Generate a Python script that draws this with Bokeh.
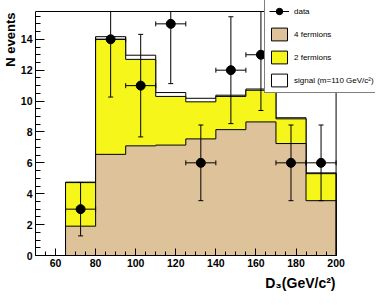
import numpy as np
from bokeh.plotting import figure
from bokeh.models import SingleIntervalTicker, Legend, LegendItem, Title, Range1d
from bokeh.embed import file_html
from bokeh.resources import INLINE

# ---- data ----
bin_edges = [65, 80, 95, 110, 125, 140, 155, 170, 185, 200]
four_fermions = [1.9, 6.55, 7.1, 7.15, 7.55, 8.15, 8.65, 7.25, 3.55]
two_fermions = [2.82, 7.45, 5.6, 3.15, 2.4, 2.15, 2.05, 1.6, 1.75]
signal_m110 = [0.03, 0.17, 0.27, 0.25, 0.23, 0.08, 0.08, 0.07, 0.05]
data_counts = [3, 14, 11, 15, 6, 12, 13, 6, 6]
data_errors = [1.73, 3.74, 3.32, 3.87, 2.45, 3.46, 3.61, 2.45, 2.45]
legend_labels = ["data", "4 fermions", "2 fermions", "signal (m=110 GeV/c\u00b2)"]
x_axis_limits = (50, 200)
y_axis_limits = (0, 15.8)

BEIGE = "#dec299"
YELLOW = "#f6f61a"
FONT = "Liberation Sans"

lefts = np.array(bin_edges[:-1], dtype=float)
rights = np.array(bin_edges[1:], dtype=float)
centers = (lefts + rights) / 2
top4 = np.array(four_fermions)
top2 = top4 + np.array(two_fermions)
topS = top2 + np.array(signal_m110)
counts = np.array(data_counts, dtype=float)
errs = np.array(data_errors)
ymax = y_axis_limits[1]
err_lo = counts - errs
err_hi_raw = counts + errs
err_hi = np.minimum(err_hi_raw, ymax)
cap_ok = err_hi_raw <= ymax

# frame extended to the right/top so the legend (which overlaps the box edge) is not clipped
FIG_W, FIG_H = 375, 297
BORDER_L, BORDER_B = 30, 42
BOX_W, BOX_H = 305, 244
x_span = x_axis_limits[1] - x_axis_limits[0]
y_span = y_axis_limits[1] - y_axis_limits[0]
x_end = x_axis_limits[0] + (FIG_W - BORDER_L) * x_span / BOX_W
y_end = y_axis_limits[0] + (FIG_H - BORDER_B) * y_span / BOX_H

p = figure(width=FIG_W, height=FIG_H, title=None,
           x_range=Range1d(x_axis_limits[0], x_end), y_range=Range1d(y_axis_limits[0], y_end),
           output_backend="svg", toolbar_location=None,
           min_border_left=BORDER_L, min_border_right=0, min_border_top=0, min_border_bottom=BORDER_B)
p.grid.visible = False
p.outline_line_color = None


def outline(tops):
    xs = [bin_edges[0]]
    ys = [0.0]
    for l, r, t in zip(lefts, rights, tops):
        xs += [l, r]
        ys += [t, t]
    xs.append(bin_edges[-1])
    ys.append(0.0)
    return xs, ys


# stacked histograms (signal on top, then 2 fermions, then 4 fermions)
hist_r = []
for tops, col in ((topS, "white"), (top2, YELLOW), (top4, BEIGE)):
    xs, ys = outline(tops)
    hist_r.append(p.patch(xs, ys, fill_color=col, line_color="black", line_width=1))
r_sig, r_2f, r_4f = hist_r

# data with error bars
p.segment(x0=centers, y0=err_lo, x1=centers, y1=err_hi, line_color="black", line_width=1)
r_hbar = p.segment(x0=lefts, y0=counts, x1=rights, y1=counts, line_color="black", line_width=1)
p.scatter(x=centers, y=err_lo, marker="dash", size=5, line_color="black")
p.scatter(x=centers[cap_ok], y=err_hi_raw[cap_ok], marker="dash", size=5, line_color="black")
p.scatter(x=lefts, y=counts, marker="dash", angle=np.pi / 2, size=5, line_color="black")
p.scatter(x=rights, y=counts, marker="dash", angle=np.pi / 2, size=5, line_color="black")
r_pts = p.scatter(x=centers, y=counts, size=9, fill_color="black", line_color="black")

# box: top and right edges of the axis frame
p.line([x_axis_limits[0], x_axis_limits[1], x_axis_limits[1]],
       [y_axis_limits[1], y_axis_limits[1], y_axis_limits[0]], line_color="black", line_width=1)

# axes
p.xaxis.ticker = SingleIntervalTicker(interval=20, num_minor_ticks=4)
p.yaxis.ticker = SingleIntervalTicker(interval=2, num_minor_ticks=4)
p.xaxis.bounds = x_axis_limits
p.yaxis.bounds = y_axis_limits
for ax in (p.xaxis[0], p.yaxis[0]):
    ax.major_tick_out = 0
    ax.minor_tick_out = 0
    ax.axis_line_color = "black"
    ax.major_tick_line_color = "black"
    ax.minor_tick_line_color = "black"
    ax.major_label_text_font = FONT
    ax.major_label_text_font_style = "bold"
    ax.major_label_text_font_size = "10.5px"
    ax.major_label_text_color = "black"
    ax.major_label_standoff = 3
p.xaxis.major_tick_in = 7
p.xaxis.minor_tick_in = 4
p.yaxis.major_tick_in = 9
p.yaxis.minor_tick_in = 5

# axis titles
p.add_layout(Title(text="N events", align="right", offset=12, standoff=0,
                   text_font=FONT, text_font_style="bold", text_font_size="13px",
                   text_color="black"), "left")
p.add_layout(Title(text="D\u2083(GeV/c\u00b2)", align="right", offset=FIG_W - BORDER_L - BOX_W, standoff=6,
                   text_font=FONT, text_font_style="bold", text_font_size="14px",
                   text_color="black"), "below")

legend = Legend(items=[
    LegendItem(label=legend_labels[0], renderers=[r_hbar, r_pts]),
    LegendItem(label=legend_labels[1], renderers=[r_4f]),
    LegendItem(label=legend_labels[2], renderers=[r_2f]),
    LegendItem(label=legend_labels[3], renderers=[r_sig]),
], location=(229, 162))
legend.border_line_color = "black"
legend.border_line_width = 1
legend.background_fill_color = "white"
legend.background_fill_alpha = 1.0
legend.glyph_width = 20
legend.glyph_height = 16
legend.label_height = 16
legend.label_standoff = 5
legend.padding = 4
legend.spacing = 7
legend.margin = 0
legend.label_text_font = FONT
legend.label_text_font_size = "8px"
legend.label_text_color = "black"
p.add_layout(legend, "center")

open("out.html", "w").write(file_html(p, INLINE))
